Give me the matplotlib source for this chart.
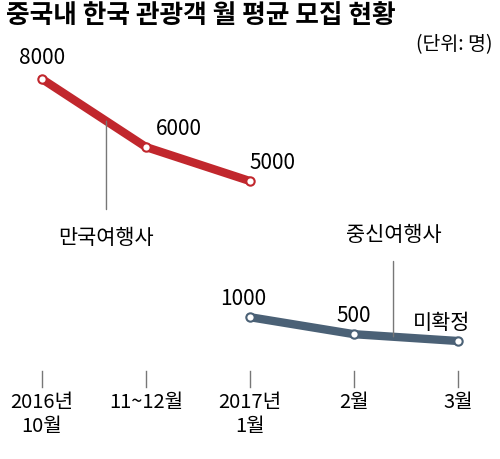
import matplotlib
matplotlib.use("Agg")
import matplotlib.pyplot as plt
import matplotlib.transforms as mt

plt.rcParams['font.family'] = ['Noto Sans CJK KR', 'DejaVu Sans']

tick_labels = ["2016년\n10월", "11~12월", "2017년\n1월", "2월", "3월"]
manguk_x = [0, 1, 2]
manguk_vals = [8000, 6000, 5000]
zhongxin_x = [2, 3, 4]
zhongxin_vals = [1000, 500, 300]
zhongxin_labels = ["1000", "500", "미확정"]
title = "중국내 한국 관광객 월 평균 모집 현황"
unit = "(단위: 명)"

W, H = 500, 460
fig = plt.figure(figsize=(5, 4.6), dpi=100)
ax = fig.add_axes([42/W, 1-342/H, 416/W, (342-80)/H])
ax.set_xlim(0, 4)
ax.set_ylim(300, 8000)
ax.axis('off')

red = "#c1272d"
blue = "#4b6176"
ax.plot(manguk_x, manguk_vals, color=red, lw=6, solid_capstyle='round', zorder=2, clip_on=False)
ax.plot(manguk_x, manguk_vals, 'o', ms=6, mfc='white', mec=red, mew=1.5, zorder=3, clip_on=False)
ax.plot(zhongxin_x, zhongxin_vals, color=blue, lw=6, solid_capstyle='round', zorder=2, clip_on=False)
ax.plot(zhongxin_x, zhongxin_vals, 'o', ms=6, mfc='white', mec=blue, mew=1.5, zorder=3, clip_on=False)

fs = 15
ax.annotate(str(manguk_vals[0]), (0, manguk_vals[0]), xytext=(0, 8), textcoords='offset points',
            ha='center', va='bottom', fontsize=fs)
ax.annotate(str(manguk_vals[1]), (1, manguk_vals[1]), xytext=(24, 6), textcoords='offset points',
            ha='center', va='bottom', fontsize=fs)
ax.annotate(str(manguk_vals[2]), (2, manguk_vals[2]), xytext=(16, 6), textcoords='offset points',
            ha='center', va='bottom', fontsize=fs)
offs = [(-5, 6), (0, 6), (-12, 6)]
for x, v, l, o in zip(zhongxin_x, zhongxin_vals, zhongxin_labels, offs):
    ax.annotate(l, (x, v), xytext=o, textcoords='offset points', ha='center', va='bottom', fontsize=fs)

grey = "#777777"
mx = 0.62
my = manguk_vals[0] + (manguk_vals[1]-manguk_vals[0])*mx
ax.annotate("만국여행사", (mx, my), xytext=(mx, 3350), ha='center', va='center', fontsize=fs,
            arrowprops=dict(arrowstyle='-', color=grey, lw=1, shrinkA=10, shrinkB=0))
zx = 3.38
zy = zhongxin_vals[1] + (zhongxin_vals[2]-zhongxin_vals[1])*(zx-3)
ax.annotate("중신여행사", (zx, zy), xytext=(zx, 3450), ha='center', va='center', fontsize=fs,
            arrowprops=dict(arrowstyle='-', color=grey, lw=1, shrinkA=10, shrinkB=0))

tr = mt.blended_transform_factory(ax.transData, fig.transFigure)
for i, lab in enumerate(tick_labels):
    ax.plot([i, i], [1-372/H, 1-388/H], color=grey, lw=1, transform=tr, clip_on=False)
    fig.text(i, 1-392/H, lab, transform=tr, ha='center', va='top', fontsize=14.5, linespacing=1.2)

fig.text(6/W, 1-2/H, title, ha='left', va='top', fontsize=18.5, fontweight='bold')
fig.text(492/W, 1-34/H, unit, ha='right', va='top', fontsize=14)

fig.savefig("out.png", dpi=100)
